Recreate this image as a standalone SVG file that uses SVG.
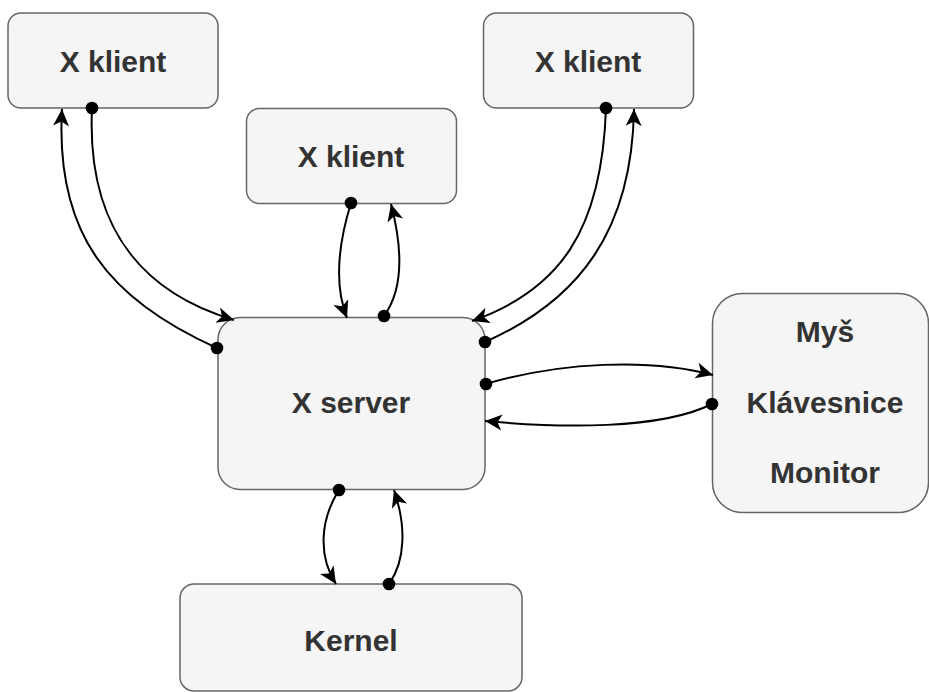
<svg xmlns="http://www.w3.org/2000/svg" width="929" height="692" viewBox="0 0 929 692">
  <style>
    .box { fill: #f5f5f5; stroke: #666666; stroke-width: 1.5; }
    .label { font-family: "Liberation Sans", Arial, sans-serif; font-weight: bold; font-size: 30px; fill: #333333; text-anchor: middle; }
    .link { fill: none; stroke: #000000; stroke-width: 2; marker-start: url(#dot); marker-end: url(#arrow); }
  </style>
  <defs>
    <!-- classic filled arrowhead, tip at the path end -->
    <marker id="arrow" markerUnits="userSpaceOnUse" markerWidth="1" markerHeight="1" refX="0" refY="0" orient="auto" overflow="visible">
      <path d="M 0 0 L -17 -8 L -12.5 0 L -17 8 Z" fill="#000000"/>
    </marker>
    <!-- round start point -->
    <marker id="dot" markerUnits="userSpaceOnUse" markerWidth="1" markerHeight="1" refX="0" refY="0" overflow="visible">
      <circle cx="0" cy="0" r="6.3" fill="#000000"/>
    </marker>
  </defs>

  <rect width="929" height="692" fill="#ffffff"/>

  <g id="client-left">
    <rect class="box" x="8" y="13" width="210" height="95" rx="13" ry="13"/>
    <text class="label" x="113" y="72">X klient</text>
  </g>
  <g id="client-middle">
    <rect class="box" x="246.5" y="108.5" width="210" height="95" rx="13" ry="13"/>
    <text class="label" x="351" y="167">X klient</text>
  </g>
  <g id="client-right">
    <rect class="box" x="483.5" y="13" width="210" height="95" rx="13" ry="13"/>
    <text class="label" x="588" y="72">X klient</text>
  </g>
  <g id="x-server">
    <rect class="box" x="218" y="317.5" width="267" height="172" rx="22" ry="22"/>
    <text class="label" x="351" y="413">X server</text>
  </g>
  <g id="devices">
    <rect class="box" x="712.5" y="293.5" width="216" height="219" rx="30" ry="30"/>
    <text class="label" x="825" y="342">Myš</text>
    <text class="label" x="825" y="413">Klávesnice</text>
    <text class="label" x="825" y="483">Monitor</text>
  </g>
  <g id="kernel">
    <rect class="box" x="180" y="584" width="342" height="107" rx="14" ry="14"/>
    <text class="label" x="351" y="651">Kernel</text>
  </g>

  <g id="connectors">
    <path class="link" d="M 92 108 C 86 235 150 295 234 320"/>
    <path class="link" d="M 217 348 C 110 300 55 235 62 109"/>
    <path class="link" d="M 351 203 C 338 245 334 285 347 318"/>
    <path class="link" d="M 384 316 C 403 290 403 250 391 204"/>
    <path class="link" d="M 606 108 C 602 230 560 290 472 321"/>
    <path class="link" d="M 485 342 C 580 300 632 230 634 109"/>
    <path class="link" d="M 486 384 C 560 362 650 358 713 375"/>
    <path class="link" d="M 712 404 C 660 430 560 428 485 421"/>
    <path class="link" d="M 339 490 C 320 520 318 556 336 584"/>
    <path class="link" d="M 389 584 C 406 560 406 525 394 490"/>
  </g>
</svg>
